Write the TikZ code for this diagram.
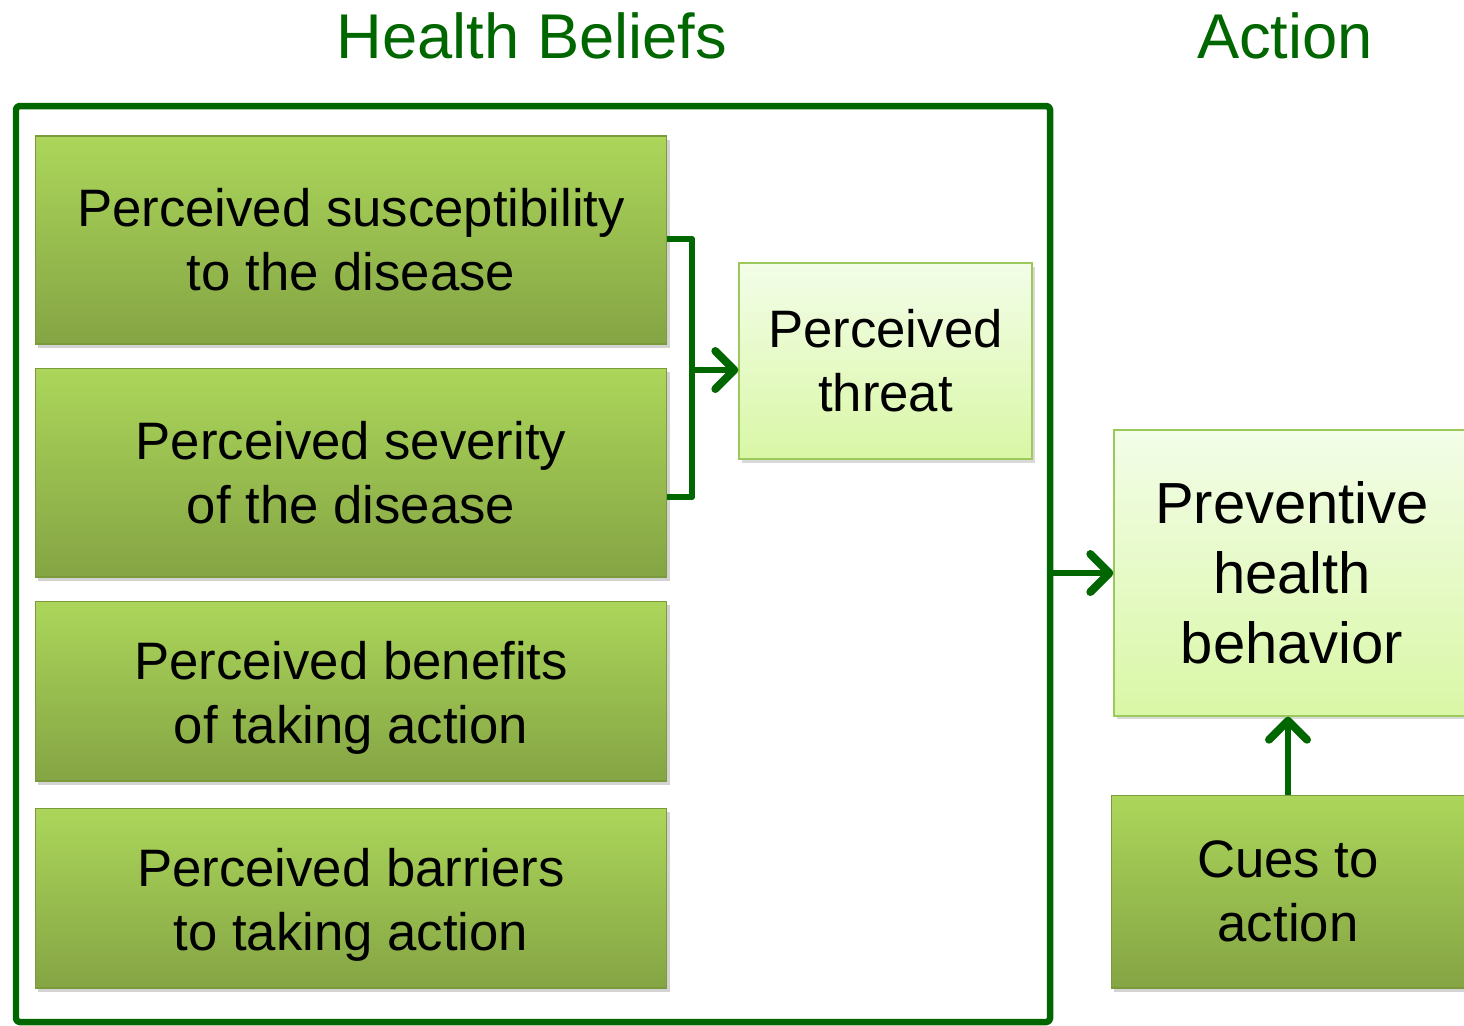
\documentclass[tikz,border=0pt]{standalone}
\usepackage{fontspec}
\setmainfont{Liberation Sans}
\usetikzlibrary{arrows.meta,shadows}

\definecolor{hbgreen}{HTML}{006600}
\definecolor{factortop}{HTML}{ABD65A}
\definecolor{factorbot}{HTML}{85A444}
\definecolor{factorrim}{HTML}{7A9A3C}
\definecolor{outtop}{HTML}{F3FDE8}
\definecolor{outbot}{HTML}{D9F7A6}
\definecolor{outrim}{HTML}{9CC95C}

\begin{document}
\begin{tikzpicture}[x=0.02cm,y=-0.02cm,
  factor/.style={rectangle, draw=factorrim, line width=0.6pt, top color=factortop, bottom color=factorbot,
    drop shadow={shadow xshift=1.5pt, shadow yshift=-2pt, opacity=0.35},
    align=center, inner sep=0pt, font=\fontsize{30}{36.4}\selectfont},
  outcome/.style={rectangle, draw=outrim, line width=0.8pt, top color=outtop, bottom color=outbot,
    drop shadow={shadow xshift=1.5pt, shadow yshift=-2pt, opacity=0.3},
    align=center, inner sep=0pt, font=\fontsize{30}{36.4}\selectfont},
  heading/.style={text=hbgreen, font=\fontsize{36}{43}\selectfont},
  link/.style={hbgreen, line width=0.13cm, line join=round},
  flow/.style={link, -{Straight Barb[length=0.38cm,width=0.76cm,line width=0.16cm,round]}}]
  \useasboundingbox (0,0) rectangle (1464,1025);

  % titles
  \node[heading] (hb) at (532,36) {Health Beliefs};
  \node[heading] (act) at (1285,36) {Action};

  % frame round the beliefs
  \draw[link, rounded corners=2pt] (16,106) rectangle (1050,1022);

  \node[factor, minimum width=12.64cm, minimum height=4.16cm] (sus) at (351,240)
    {Perceived susceptibility\\to the disease};
  \node[factor, minimum width=12.64cm, minimum height=4.18cm] (sev) at (351,472.5)
    {Perceived severity\\of the disease};
  \node[factor, minimum width=12.64cm, minimum height=3.6cm, text height=2.33cm] (ben) at (351,691)
    {Perceived benefits\\of taking action};
  \node[factor, minimum width=12.64cm, minimum height=3.6cm, text height=2.33cm] (bar) at (351,898)
    {Perceived barriers\\to taking action};

  \node[outcome, minimum width=5.86cm, minimum height=3.92cm] (thr) at (885.5,361)
    {Perceived\\threat};
  \node[outcome, minimum width=7.12cm, minimum height=5.72cm,
    font=\fontsize{33}{39.8}\selectfont] (beh) at (1292,573)
    {Preventive\\health\\behavior};
  \node[factor, minimum width=7.08cm, minimum height=3.86cm] (cue) at (1288,891.5)
    {Cues to\\action};

  % bracket joining susceptibility and severity
  \coordinate (j1) at (692,239);
  \coordinate (j2) at (692,497);
  \coordinate (tj) at (692,370);
  \draw[link] (sus.east |- j1) -- (j1) -- (j2) -- (j2 -| sev.east);
  \draw[flow] (tj) -- (tj -| thr.west);

  % frame into behaviour, cues into behaviour
  \coordinate (fj) at (1050,573);
  \draw[flow] (fj) -- (beh.west);
  \draw[flow] (cue.north) -- (cue.north |- beh.south);
\end{tikzpicture}
\end{document}
